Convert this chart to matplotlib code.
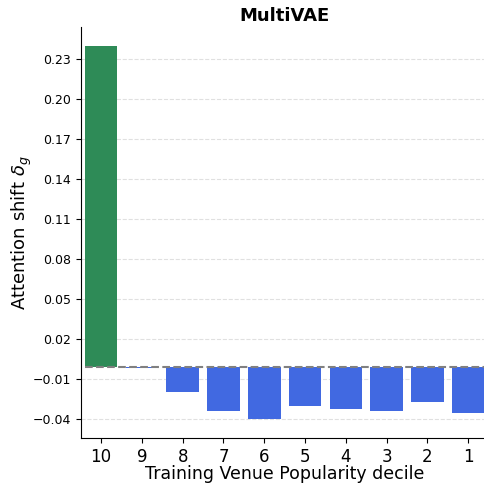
import numpy as np
import matplotlib
matplotlib.use("Agg")
import matplotlib.pyplot as plt

deciles = ["10", "9", "8", "7", "6", "5", "4", "3", "2", "1"]
shift = [0.2404, -0.0008, -0.0189, -0.0330, -0.0393, -0.0293, -0.0313, -0.0330, -0.0263, -0.0345]

colores = ["seagreen" if v > 0 else "royalblue" for v in shift]

fig = plt.figure(figsize=(4.84, 4.86), dpi=100)
ax = fig.add_axes([0.1667, 0.0988, 0.843, 0.8457])

x = np.arange(len(deciles))
ax.bar(x, shift, color=colores, width=0.8, zorder=2)
ax.hlines(0, x[0] - 0.4, x[-1] + 0.4, color="grey", linestyle="--", linewidth=1.5, zorder=3)

# ticks cada 0.03 desde el minimo
ticks = np.arange(min(shift), max(shift), 0.03)
ax.set_yticks(ticks)
ax.set_yticklabels([f"{t:.2f}".replace("-", "\u2212") for t in ticks], fontsize=9)
ax.yaxis.grid(True, linestyle="--", color="lightgrey", alpha=0.7, zorder=0)

ax.set_xticks(x)
ax.set_xticklabels(deciles, fontsize=12)
ax.set_xlim(-0.5, 9.5)

ax.set_title("MultiVAE", fontsize=13, fontweight="bold", pad=4)
ax.set_xlabel("Training Venue Popularity decile", fontsize=12.5)
ax.set_ylabel("Attention shift $\\delta_g$", fontsize=13)
ax.xaxis.set_label_coords(0.499, -0.066)
ax.yaxis.set_label_coords(-0.115, 0.5)
ax.spines["top"].set_visible(False)
ax.spines["right"].set_visible(False)

fig.savefig("out.png", dpi=100)
